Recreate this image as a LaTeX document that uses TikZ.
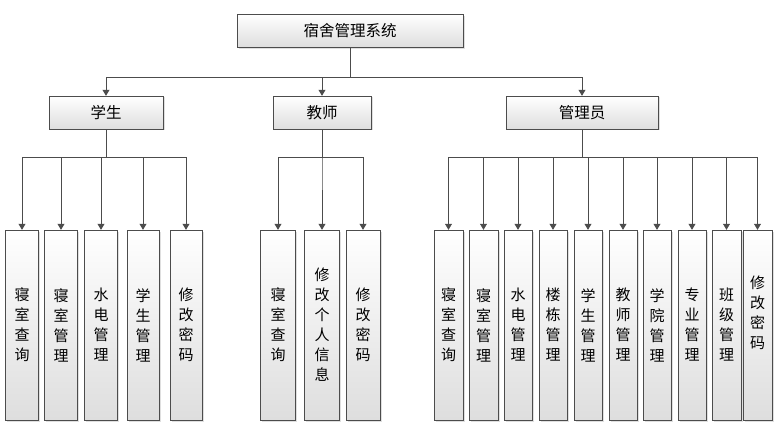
\documentclass[tikz,border=0pt]{standalone}
\usepackage{fontspec}
\setmainfont{Noto Sans CJK SC}
\usetikzlibrary{arrows.meta,shadows}

\begin{document}
\begin{tikzpicture}[
        x=1pt, y=-1pt,
        box/.style={draw=black!70, top color=white, bottom color=black!13, drop shadow={shadow xshift=1.5pt, shadow yshift=-1.5pt, opacity=0.25}, inner sep=0pt},
        head/.style={box, minimum height=33pt, font=\fontsize{15.5}{20}\selectfont},
        leaf/.style={box, minimum height=190pt, align=center, font=\fontsize{15}{20}\selectfont},
        link/.style={draw=black!70, line width=0.8pt, -{Triangle[length=6pt,width=7pt]}}
    ]
        \useasboundingbox (0,0) rectangle (776,425);

        % top levels
        \node[head, minimum width=226pt] (root) at (350,31) {宿舍管理系统};
        \node[head, minimum width=114pt] (stu) at (106,112.5) {学生};
        \node[head, minimum width=98pt] (tea) at (322,112.5) {教师};
        \node[head, minimum width=152pt] (adm) at (582,112.5) {管理员};

        \coordinate (rbus) at (350,77);
        \draw[link] (root.south) -- (rbus) -| (stu.north);
        \draw[link] (root.south) -- (rbus) -| (tea.north);
        \draw[link] (root.south) -- (rbus) -| (adm.north);

        % student
        \node[leaf, minimum width=33pt] (s1) at (22,325) {寝\\室\\查\\询};
        \node[leaf, minimum width=33pt] (s2) at (61,325) {寝\\室\\管\\理};
        \node[leaf, minimum width=33pt] (s3) at (101,325) {水\\电\\管\\理};
        \node[leaf, minimum width=32pt] (s4) at (143,325) {学\\生\\管\\理};
        \node[leaf, minimum width=32pt] (s5) at (186,325) {修\\改\\密\\码};

        \coordinate (sbus) at (106,157);
        \foreach \i in {1,...,5}
            \draw[link] (stu.south) -- (sbus) -| (s\i.north);

        % teacher
        \node[leaf, minimum width=35pt] (t1) at (278,325) {寝\\室\\查\\询};
        \node[leaf, minimum width=35pt] (t2) at (322,325) {修\\改\\个\\人\\信\\息};
        \node[leaf, minimum width=34pt] (t3) at (363,325) {修\\改\\密\\码};

        \coordinate (tbus) at (322,157);
        \foreach \i in {1,...,3}
            \draw[link] (tea.south) -- (tbus) -| (t\i.north);

        % admin
        \node[leaf, minimum width=29pt] (a1) at (448.5,325) {寝\\室\\查\\询};
        \node[leaf, minimum width=29pt] (a2) at (483.5,325) {寝\\室\\管\\理};
        \node[leaf, minimum width=28pt] (a3) at (518,325) {水\\电\\管\\理};
        \node[leaf, minimum width=28pt] (a4) at (553,325) {楼\\栋\\管\\理};
        \node[leaf, minimum width=28pt] (a5) at (588,325) {学\\生\\管\\理};
        \node[leaf, minimum width=28pt] (a6) at (623,325) {教\\师\\管\\理};
        \node[leaf, minimum width=28pt] (a7) at (657,325) {学\\院\\管\\理};
        \node[leaf, minimum width=28pt] (a8) at (692,325) {专\\业\\管\\理};
        \node[leaf, minimum width=29pt] (a9) at (726.5,325) {班\\级\\管\\理};
        \node[leaf, minimum width=29pt] (a10) at (757.5,325) {};
        \node[align=center, font=\fontsize{15}{20}\selectfont] (a10t) at ([yshift=12pt]a10.center) {修\\改\\密\\码};

        \coordinate (abus) at (582,157);
        \foreach \i in {1,...,10}
            \draw[link] (adm.south) -- (abus) -| (a\i.north);
    \end{tikzpicture}
\end{document}
